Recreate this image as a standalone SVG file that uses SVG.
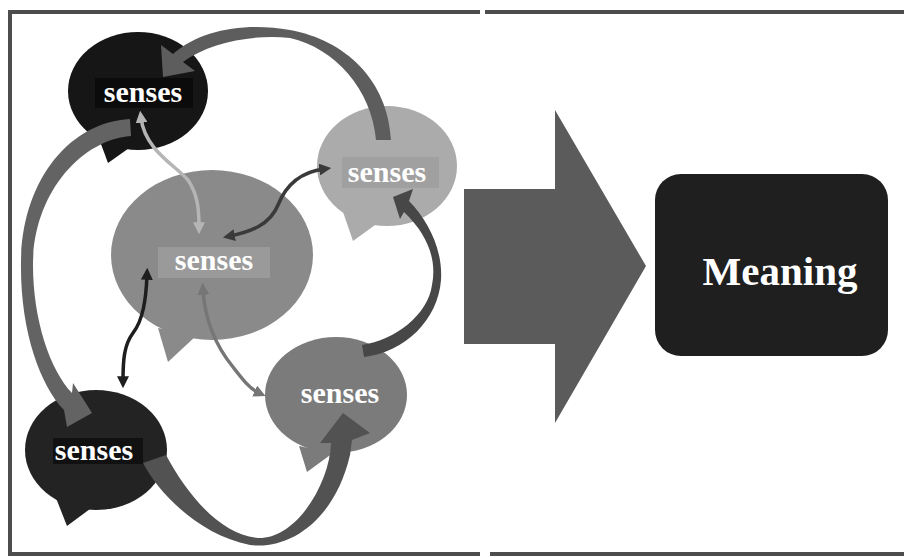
<svg xmlns="http://www.w3.org/2000/svg" width="904" height="558" viewBox="0 0 904 558">
<defs>
<style>
.lbl{font-family:"Liberation Serif","Times New Roman",serif;font-weight:bold;font-size:30px;fill:#ffffff;text-anchor:middle}
.big{font-family:"Liberation Serif","Times New Roman",serif;font-weight:bold;font-size:41px;fill:#ffffff;text-anchor:middle}
.frame{stroke:#4d4d4d;stroke-width:4;fill:none}
.thin{fill:none;stroke-width:3.5;stroke-linecap:butt}
</style>
<marker id="mE" viewBox="0 0 10 10" refX="4" refY="5" markerWidth="12" markerHeight="12" markerUnits="userSpaceOnUse" orient="auto-start-reverse"><path d="M0,0 L10,5 L0,10 Z" fill="#b5b5b5"/></marker>
<marker id="mF" viewBox="0 0 10 10" refX="4" refY="5" markerWidth="12" markerHeight="12" markerUnits="userSpaceOnUse" orient="auto-start-reverse"><path d="M0,0 L10,5 L0,10 Z" fill="#3a3a3a"/></marker>
<marker id="mG" viewBox="0 0 10 10" refX="4" refY="5" markerWidth="12" markerHeight="12" markerUnits="userSpaceOnUse" orient="auto-start-reverse"><path d="M0,0 L10,5 L0,10 Z" fill="#1e1e1e"/></marker>
<marker id="mH" viewBox="0 0 10 10" refX="4" refY="5" markerWidth="12" markerHeight="12" markerUnits="userSpaceOnUse" orient="auto-start-reverse"><path d="M0,0 L10,5 L0,10 Z" fill="#767676"/></marker>
</defs>
<rect width="904" height="558" fill="#ffffff"/>
<g id="frame">
<line class="frame" x1="8" y1="12" x2="480" y2="12"/>
<line class="frame" x1="485" y1="12" x2="904" y2="12"/>
<line class="frame" x1="10" y1="10" x2="10" y2="556"/>
<line class="frame" x1="8" y1="554" x2="480" y2="554"/>
<line class="frame" x1="490" y1="554" x2="904" y2="554"/>
</g>
<g id="node-center">
<ellipse cx="212" cy="255" rx="101" ry="85" fill="#8a8a8a"/>
<polygon points="158,328 168,362 197,335" fill="#8a8a8a"/>
<rect x="158" y="247" width="112" height="31" fill="#9a9a9a"/>
<text class="lbl" x="214" y="270">senses</text>
</g>
<g id="node-topleft">
<ellipse cx="138" cy="91" rx="70" ry="59" fill="#161616"/>
<polygon points="98,136 108,163 132,146" fill="#161616"/>
<rect x="95" y="78" width="98" height="30" fill="#0b0b0b"/>
<text class="lbl" x="143" y="102">senses</text>
</g>
<g id="node-right">
<ellipse cx="387" cy="166" rx="70" ry="60" fill="#ababab"/>
<polygon points="343,212 353,241 382,220" fill="#ababab"/>
<rect x="342" y="157" width="97" height="31" fill="#a0a0a0"/>
<text class="lbl" x="387" y="182">senses</text>
</g>
<g id="node-bottomleft">
<ellipse cx="96" cy="450" rx="71" ry="60" fill="#232323"/>
<polygon points="56,498 67,526 94,506" fill="#232323"/>
<rect x="53" y="438" width="90" height="26" fill="#111111"/>
<text class="lbl" x="94" y="460">senses</text>
</g>
<g id="node-bottomright">
<ellipse cx="336" cy="395" rx="71" ry="58" fill="#7b7b7b"/>
<polygon points="299,446 307,472 333,453" fill="#7b7b7b"/>
<text class="lbl" x="340" y="403">senses</text>
</g>
<g id="node-meaning">
<rect x="655" y="174" width="233" height="182" rx="26" ry="26" fill="#1f1f1f"/>
<text class="big" x="780" y="285">Meaning</text>
</g>
<g id="connectors">
<path d="M391,140 C388,80 345,40 290,30 C245,22 200,30 173,54 L161,45 L163,77 L195,71 L183,62 C210,42 255,34 290,38 C335,48 372,90 376,140 Z" fill="#5d5d5d"/>
<path d="M130,119 C70,122 22,180 21,262 C20,330 40,385 64,410 L67,427 L92,413 L73,383 L72,393 C50,370 33,320 33,265 C33,195 80,140 131,136 Z" fill="#636363"/>
<path d="M143,463 C160,495 200,535 250,545 C290,550 335,520 350,455 L352,440 L370,433 L343,413 L320,443 L331,443 C330,480 300,535 262,538 C225,538 190,500 166,455 Z" fill="#525252"/>
<path d="M362,345 C395,340 428,315 432,285 C437,260 428,235 404,212 L400,219 L393,197 L413,189 L409,201 C428,220 443,250 441,280 C438,320 405,352 364,357 Z" fill="#474747"/>
<path class="thin" d="M141,118 C145,150 175,165 188,180 C198,195 199,210 199,227" stroke="#b5b5b5" marker-start="url(#mE)" marker-end="url(#mE)"/>
<path class="thin" d="M230,236 C250,232 270,225 278,205 C286,185 300,172 324,169" stroke="#3a3a3a" marker-start="url(#mF)" marker-end="url(#mF)"/>
<path class="thin" d="M147,275 C146,300 143,320 133,333 C124,345 123,360 123,381" stroke="#1e1e1e" marker-start="url(#mG)" marker-end="url(#mG)"/>
<path class="thin" d="M203,290 C205,320 215,345 233,367 C243,380 250,389 259,393" stroke="#767676" marker-start="url(#mH)" marker-end="url(#mH)"/>
</g>
<g id="node-bigarrow">
<polygon points="464,189 555,189 555,110 646,266 555,423 555,344 464,344" fill="#5b5b5b"/>
</g>
</svg>
